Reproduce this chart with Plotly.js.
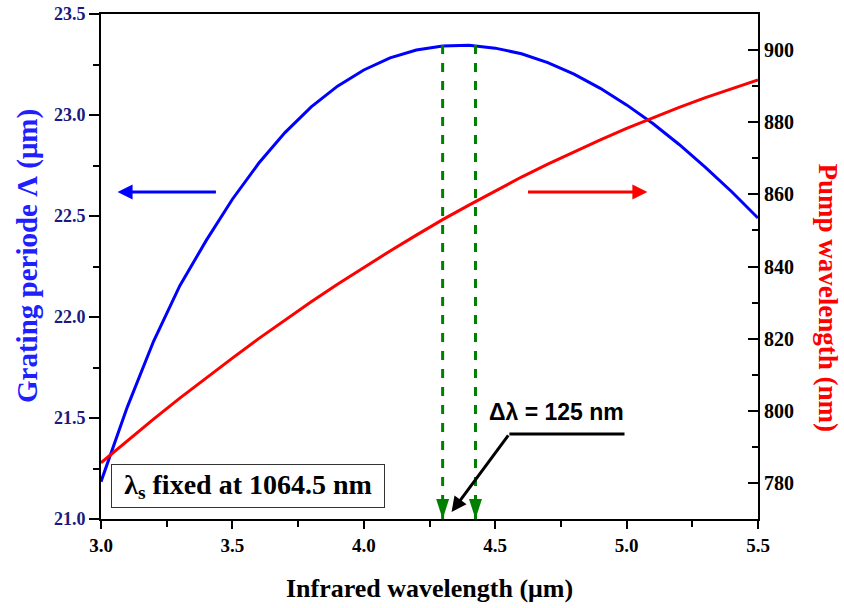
<!DOCTYPE html>
<html>
<head>
<meta charset="utf-8">
<script src="https://cdn.plot.ly/plotly-3.0.1.min.js"></script>
<style>html,body{margin:0;padding:0;background:#fff;}#chart{width:844px;height:608px;}</style>
</head>
<body>
<div id="chart"></div>
<script>
// Infrared (idler) wavelength, µm
const wavelengthIR = [3.0,3.1,3.2,3.3,3.4,3.5,3.6,3.7,3.8,3.9,4.0,4.1,4.2,4.3,4.4,4.5,4.6,4.7,4.8,4.9,5.0,5.1,5.2,5.3,5.4,5.5];
// Grating period Λ, µm (left axis)
const gratingPeriod = [21.185,21.554,21.880,22.155,22.378,22.583,22.761,22.913,23.040,23.143,23.223,23.283,23.322,23.342,23.345,23.331,23.303,23.259,23.202,23.132,23.050,22.958,22.854,22.741,22.620,22.490];
// Pump wavelength, nm (right axis)
const pumpWavelength = [785.6,791.7,797.7,803.5,809.1,814.6,820.0,825.2,830.2,835.1,839.8,844.3,848.7,853.0,857.0,861.0,864.8,868.4,871.8,875.1,878.3,881.3,884.1,886.8,889.3,891.7];
// Tuning band edges (Δλ = 125 nm) and peak period
const bandEdges = [4.30, 4.425];
const peakPeriod = 23.346;
const periodAxisMin = 21.0;

const serif = 'Liberation Serif';
const traces = [
  {x: wavelengthIR, y: gratingPeriod, type: 'scatter', mode: 'lines', line: {color: '#0000ff', width: 3}, yaxis: 'y', hoverinfo: 'skip'},
  {x: wavelengthIR, y: pumpWavelength, type: 'scatter', mode: 'lines', line: {color: '#ff0000', width: 3}, yaxis: 'y2', hoverinfo: 'skip'}
];
bandEdges.forEach(e => {
  traces.push({x: [e, e], y: [peakPeriod, periodAxisMin], type: 'scatter', mode: 'lines',
    line: {color: '#008000', width: 3, dash: 'dash'}, yaxis: 'y', hoverinfo: 'skip'});
});
traces.push({x: bandEdges, y: bandEdges.map(() => periodAxisMin), type: 'scatter', mode: 'markers',
  marker: {symbol: 'arrow', angle: 180, size: 21, color: '#008000', standoff: 0}, yaxis: 'y', hoverinfo: 'skip', cliponaxis: false});

const tickFontBold = (c, s) => ({family: serif, size: s, color: c, weight: 'bold'});

const layout = {
  width: 844, height: 608,
  margin: {l: 101, r: 86, t: 14, b: 89},
  paper_bgcolor: '#fff', plot_bgcolor: '#fff',
  showlegend: false,
  xaxis: {
    range: [3.0, 5.5], dtick: 0.5, tick0: 3.0, tickformat: '.1f',
    ticks: 'outside', ticklen: 8, tickwidth: 2, tickcolor: '#000',
    minor: {dtick: 0.25, ticks: 'outside', ticklen: 6, tickwidth: 2, tickcolor: '#000'},
    showline: true, linewidth: 2, linecolor: '#000', mirror: true,
    showgrid: false, zeroline: false,
    tickfont: tickFontBold('#000', 19),
    title: {text: 'Infrared wavelength (μm)', font: {family: serif, size: 26, color: '#000', weight: 'bold'}, standoff: 24}
  },
  yaxis: {
    range: [21.0, 23.5], dtick: 0.5, tick0: 21.0, tickformat: '.1f',
    ticks: 'outside', ticklen: 10, tickwidth: 2, tickcolor: '#000',
    minor: {dtick: 0.25, ticks: 'outside', ticklen: 6, tickwidth: 2, tickcolor: '#000'},
    showline: true, linewidth: 2, linecolor: '#000',
    showgrid: false, zeroline: false,
    tickfont: tickFontBold('#1a1a80', 18)
  },
  yaxis2: {
    overlaying: 'y', side: 'right', anchor: 'x',
    range: [770, 910], dtick: 20, tick0: 780,
    ticks: 'inside', ticklen: 10, tickwidth: 2, tickcolor: '#000',
    minor: {dtick: 10, ticks: 'inside', ticklen: 6, tickwidth: 2, tickcolor: '#000'},
    showline: true, linewidth: 2, linecolor: '#000',
    showgrid: false, zeroline: false,
    tickfont: tickFontBold('#000', 20)
  },
  annotations: [
    {xref: 'paper', yref: 'paper', x: -0.111, y: 0.521, xanchor: 'center', yanchor: 'middle',
     text: 'Grating periode Λ (μm)', textangle: -90, showarrow: false,
     font: {family: serif, size: 29, color: '#2020ff', weight: 'bold'}},
    {xref: 'paper', yref: 'paper', x: 1.107, y: 0.438, xanchor: 'center', yanchor: 'middle',
     text: 'Pump wavelength (nm)', textangle: 90, showarrow: false,
     font: {family: serif, size: 27, color: '#ff0000', weight: 'bold'}},
    {xref: 'x', yref: 'y', x: 3.063, y: 22.619, axref: 'x', ayref: 'y', ax: 3.443, ay: 22.619, text: '', showarrow: true,
     arrowhead: 2, arrowsize: 1, arrowwidth: 3, arrowcolor: '#0000ff', standoff: 0},
    {xref: 'x', yref: 'y', x: 5.079, y: 22.619, axref: 'x', ayref: 'y', ax: 4.619, ay: 22.619, text: '', showarrow: true,
     arrowhead: 2, arrowsize: 1, arrowwidth: 3, arrowcolor: '#ff0000', standoff: 0},
    {xref: 'x', yref: 'y', x: 4.334, y: 21.035, axref: 'x', ayref: 'y', ax: 4.554, ay: 21.421, text: '', showarrow: true,
     arrowhead: 2, arrowsize: 1, arrowwidth: 3, arrowcolor: '#000', standoff: 0},
    {xref: 'x', yref: 'y', x: 4.735, y: 21.53, text: 'Δλ = 125 nm', showarrow: false,
     font: {family: 'Liberation Sans', size: 23, color: '#000', weight: 'bold'}},
    {xref: 'x', yref: 'y', x: 3.559, y: 21.161, text: 'λ<sub>s</sub> fixed at 1064.5 nm', showarrow: false,
     font: {family: serif, size: 28, color: '#000', weight: 'bold'},
     bordercolor: '#333', borderwidth: 1, borderpad: 2, width: 268, height: 38, bgcolor: '#fff'}
  ],
  shapes: [
    {type: 'line', xref: 'x', yref: 'y', x0: 4.554, x1: 4.992, y0: 21.421, y1: 21.421, line: {color: '#000', width: 3}}
  ]
};

Plotly.newPlot('chart', traces, layout, {staticPlot: true, displayModeBar: false});
</script>
</body>
</html>
